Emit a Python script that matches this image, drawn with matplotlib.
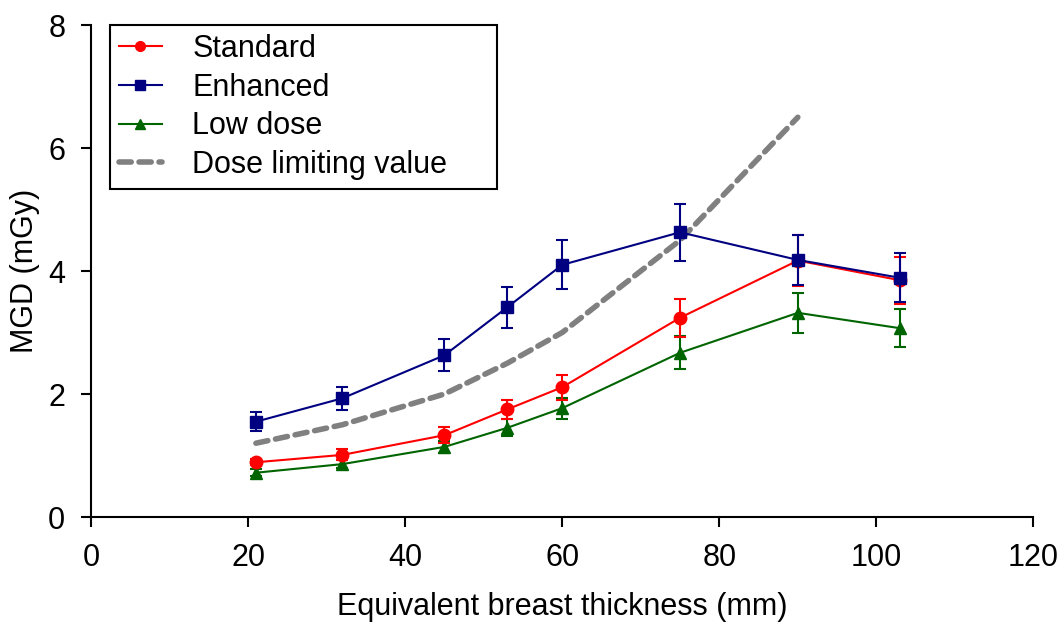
import matplotlib
matplotlib.use('Agg')
import matplotlib.pyplot as plt
from matplotlib.lines import Line2D

plt.rcParams['font.family'] = ['Liberation Sans', 'DejaVu Sans']

# Equivalent breast thickness (mm)
thickness = [21, 32, 45, 53, 60, 75, 90, 103]

# Mean glandular dose (mGy) and error bars
standard = [0.89, 1.01, 1.33, 1.75, 2.11, 3.24, 4.17, 3.85]
standard_err = [0.05, 0.09, 0.13, 0.16, 0.20, 0.31, 0.42, 0.38]

enhanced = [1.55, 1.93, 2.63, 3.41, 4.10, 4.63, 4.18, 3.89]
enhanced_err = [0.15, 0.19, 0.26, 0.33, 0.40, 0.46, 0.41, 0.40]

low_dose = [0.72, 0.86, 1.14, 1.45, 1.77, 2.67, 3.32, 3.07]
low_dose_err = [0.06, 0.07, 0.10, 0.14, 0.17, 0.27, 0.33, 0.31]

# Dose limiting value
limit_thickness = [21, 32, 45, 53, 60, 75, 90]
limit_value = [1.2, 1.5, 2.0, 2.5, 3.0, 4.5, 6.5]

fig = plt.figure(figsize=(10.63, 6.22), dpi=100)
ax = fig.add_axes([0.0856, 0.1688, 0.8866, 0.791])

ax.plot(limit_thickness, limit_value, color='#808080', linestyle=(0, (2.2, 1.4)),
        linewidth=4, dash_capstyle='round', zorder=2)

common = dict(linewidth=1.5, markersize=9, capsize=4.5, elinewidth=1.5, capthick=1.5)
ax.errorbar(thickness, low_dose, yerr=low_dose_err, color='#006400',
            marker='^', zorder=3, **common)
ax.errorbar(thickness, standard, yerr=standard_err, color='#FF0000',
            marker='o', zorder=4, **common)
ax.errorbar(thickness, enhanced, yerr=enhanced_err, color='#000080',
            marker='s', zorder=5, **common)

ax.set_xlim(0, 120)
ax.set_ylim(0, 8)
ax.set_xticks(range(0, 121, 20))
ax.set_yticks(range(0, 9, 2))
ax.spines['top'].set_visible(False)
ax.spines['right'].set_visible(False)
ax.spines['left'].set_linewidth(1.5)
ax.spines['bottom'].set_linewidth(1.5)
ax.tick_params(direction='out', length=7.5, width=1.5, labelsize=22, pad=11)

ax.set_xlabel('Equivalent breast thickness (mm)', fontsize=22, labelpad=14)
ax.set_ylabel('MGD (mGy)', fontsize=22, labelpad=6)

handles = [
    Line2D([], [], color='#FF0000', marker='o', markersize=7, linewidth=1.5),
    Line2D([], [], color='#000080', marker='s', markersize=7, linewidth=1.5),
    Line2D([], [], color='#006400', marker='^', markersize=7, linewidth=1.5),
    Line2D([], [], color='#808080', linestyle=(0, (2.2, 1.4)), linewidth=4,
           dash_capstyle='round'),
]
labels = ['Standard', 'Enhanced', 'Low dose', 'Dose limiting value']
leg = ax.legend(handles, labels, loc='upper left', mode='expand',
                bbox_to_anchor=(0.02, 0.0, 0.411, 1.0), fontsize=22, frameon=True,
                fancybox=False, edgecolor='black', framealpha=1,
                handlelength=1.4, handletextpad=1.0, borderpad=0.3,
                labelspacing=0.28, borderaxespad=0)
leg.get_frame().set_linewidth(1.5)

fig.savefig('out.png', dpi=100)
